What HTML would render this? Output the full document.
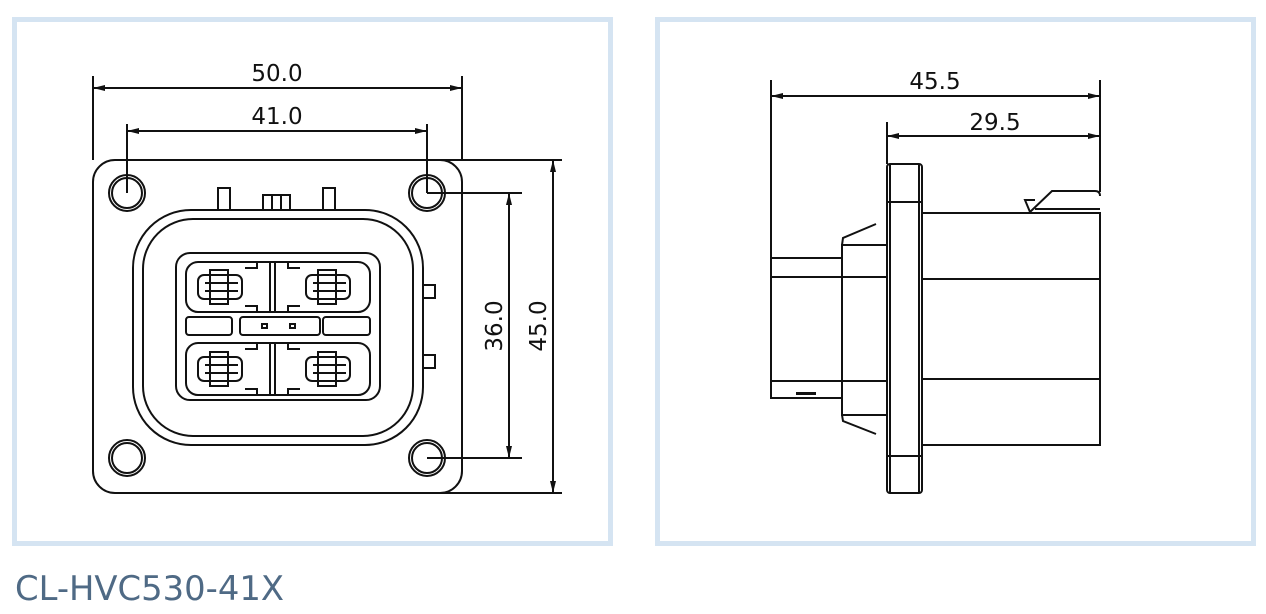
<!DOCTYPE html>
<html><head><style>
html,body{margin:0;padding:0;background:#fff;width:1266px;height:614px;overflow:hidden}
svg{display:block}
</style></head><body>
<svg width="1266" height="614" viewBox="0 0 1266 614" xmlns="http://www.w3.org/2000/svg">
<defs>
<marker id="a" markerWidth="12" markerHeight="8" refX="12" refY="4" orient="auto-start-reverse" markerUnits="userSpaceOnUse"><path d="M0,1 L12,4 L0,7 z" fill="#111"/></marker>
</defs>
<rect x="14.5" y="19.5" width="596" height="524" fill="#fff" stroke="#d5e4f2" stroke-width="5"/>
<rect x="657.5" y="19.5" width="596" height="524" fill="#fff" stroke="#d5e4f2" stroke-width="5"/>
<g fill="none" stroke="#111" stroke-width="2">
<line x1="93" y1="76" x2="93" y2="160"/><line x1="462" y1="76" x2="462" y2="160"/>
<line x1="93" y1="88" x2="462" y2="88" marker-start="url(#a)" marker-end="url(#a)"/>
<line x1="127" y1="124" x2="127" y2="193"/><line x1="427" y1="124" x2="427" y2="193"/>
<line x1="127" y1="131" x2="427" y2="131" marker-start="url(#a)" marker-end="url(#a)"/>
<line x1="427" y1="160" x2="562" y2="160"/><line x1="427" y1="493" x2="562" y2="493"/>
<line x1="427" y1="193" x2="522" y2="193"/><line x1="427" y1="458" x2="522" y2="458"/>
<line x1="509" y1="193" x2="509" y2="458" marker-start="url(#a)" marker-end="url(#a)"/>
<line x1="553" y1="160" x2="553" y2="493" marker-start="url(#a)" marker-end="url(#a)"/>
<rect x="93" y="160" width="369" height="333" rx="22"/>
<circle cx="127" cy="193" r="18"/><circle cx="127" cy="193" r="15"/>
<circle cx="427" cy="193" r="18"/><circle cx="427" cy="193" r="15"/>
<circle cx="127" cy="458" r="18"/><circle cx="127" cy="458" r="15"/>
<circle cx="427" cy="458" r="18"/><circle cx="427" cy="458" r="15"/>
<rect x="133" y="210" width="290" height="235" rx="58"/>
<rect x="143" y="219" width="270" height="217" rx="50"/>
<path d="M218,210 V188 h12 V210 M323,210 V188 h12 V210"/>
<path d="M263,209 V195 h27 V209 M272,195 V209 M281,195 V209"/>
<path d="M423,285 h12 v13 h-12 M423,355 h12 v13 h-12"/>
<rect x="176" y="253" width="204" height="147" rx="14"/>
<rect x="186" y="262" width="184" height="50" rx="12"/>
<rect x="186" y="343" width="184" height="52" rx="12"/>
<rect x="240" y="317" width="80" height="18" rx="3"/>
<rect x="186" y="317" width="46" height="18" rx="3"/>
<rect x="323" y="317" width="47" height="18" rx="3"/>
<rect x="262" y="324" width="5" height="4"/><rect x="290" y="324" width="5" height="4"/>
<line x1="270" y1="262" x2="270" y2="312"/><line x1="275" y1="262" x2="275" y2="312"/>
<line x1="270" y1="343" x2="270" y2="395"/><line x1="275" y1="343" x2="275" y2="395"/>
<path d="M245,268 h12 v-6 M245,306 h12 v6 M300,268 h-12 v-6 M300,306 h-12 v6"/>
<path d="M245,349 h12 v-6 M245,389 h12 v6 M300,349 h-12 v-6 M300,389 h-12 v6"/>
<g id="p"><rect x="198" y="275" width="44" height="24" rx="6"/><rect x="210" y="270" width="18" height="34"/><line x1="205" y1="283" x2="238" y2="283"/><line x1="205" y1="291" x2="238" y2="291"/></g>
<use href="#p" transform="translate(108,0)"/>
<use href="#p" transform="translate(0,82)"/>
<use href="#p" transform="translate(108,82)"/>
<line x1="771" y1="80" x2="771" y2="258"/><line x1="1100" y1="80" x2="1100" y2="192"/>
<line x1="771" y1="96" x2="1100" y2="96" marker-start="url(#a)" marker-end="url(#a)"/>
<line x1="887" y1="122" x2="887" y2="164"/>
<line x1="887" y1="136" x2="1100" y2="136" marker-start="url(#a)" marker-end="url(#a)"/>
<path d="M842,258 H771 V398 H842"/>
<line x1="771" y1="277" x2="887" y2="277"/><line x1="771" y1="381" x2="887" y2="381"/>
<rect x="842" y="245" width="45" height="170"/>
<path d="M842,245 L843,238 L876,224 M842,415 L843,421 L876,434"/>
<rect x="887" y="164" width="35" height="329" rx="3"/>
<line x1="890" y1="164" x2="890" y2="493"/><line x1="919" y1="164" x2="919" y2="493"/>
<line x1="887" y1="202" x2="922" y2="202"/><line x1="887" y1="456" x2="922" y2="456"/>
<path d="M922,213 H1100 V445 H922"/>
<line x1="922" y1="279" x2="1100" y2="279"/><line x1="922" y1="379" x2="1100" y2="379"/>
<path d="M1030,212 L1052,191 H1095 Q1100,191 1100,196 M1035,209 H1100 M1030,212 L1025,200 H1035"/>
</g>
<rect x="796" y="392" width="20" height="3" fill="#111"/>
<g font-family="'DejaVu Sans','Liberation Sans',sans-serif" font-size="23" fill="#111" text-anchor="middle">
<text x="277" y="81">50.0</text>
<text x="277" y="124">41.0</text>
<text x="935" y="89">45.5</text>
<text x="995" y="130">29.5</text>
<text transform="translate(502,326) rotate(-90)">36.0</text>
<text transform="translate(546,326) rotate(-90)">45.0</text>
</g>
<text x="15" y="600" font-family="'DejaVu Sans','Liberation Sans',sans-serif" font-size="34" fill="#4f6a85" textLength="269" lengthAdjust="spacingAndGlyphs">CL-HVC530-41X</text>
</svg>
</body></html>
